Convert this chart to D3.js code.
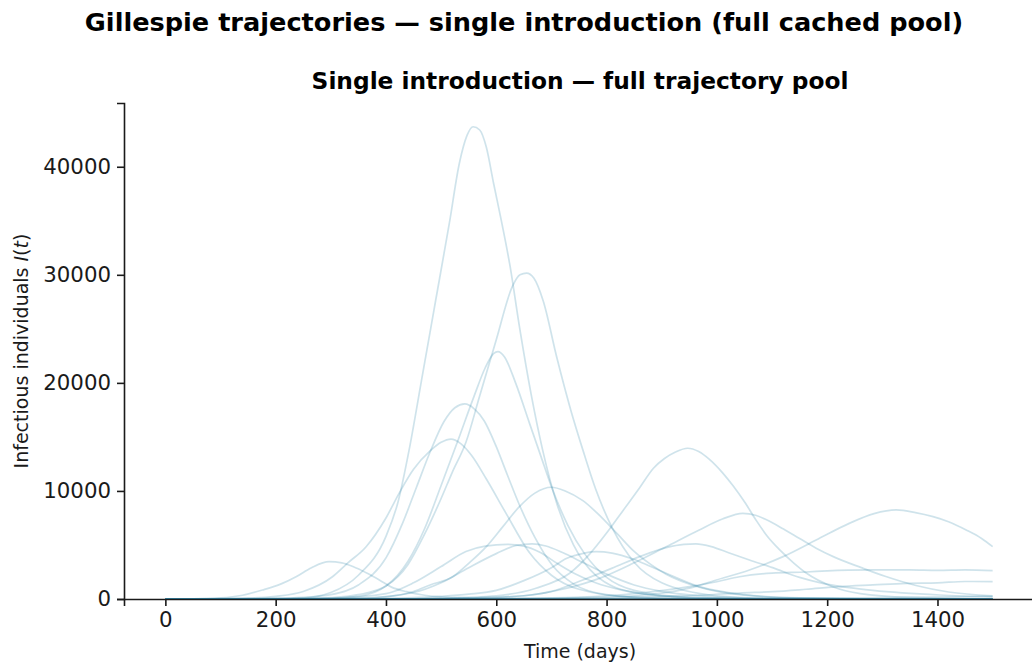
<!DOCTYPE html>
<html>
<head>
<meta charset="utf-8">
<script src="https://cdn.jsdelivr.net/npm/d3@7/dist/d3.min.js"></script>
<style>
  html, body { margin: 0; padding: 0; background: #fff; }
  svg { display: block; font-family: "DejaVu Sans", sans-serif; }
</style>
</head>
<body>
<svg id="chart" width="1032" height="668"></svg>
<script>
// Gillespie SIR trajectories, single introduction: [day, infectious count]
const run01 = [[0,0],[200,30],[250,100],[300,600],[350,2200],[400,5800],[422,9000],[442,13800],[465,20400],[490,27600],[515,34800],[533,40300],[547,42900],[558,43700],[570,43400],[582,41800],[595,38500],[610,34800],[625,30800],[642,25200],[663,19000],[684,13800],[710,8800],[740,5000],[780,2200],[850,600],[950,100],[1100,0],[1500,0]];
const run02 = [[0,0],[250,40],[300,120],[350,400],[400,1200],[440,3200],[470,6000],[500,9300],[520,11700],[545,14500],[570,18800],[600,24000],[629,28900],[643,30000],[655,30150],[668,29700],[685,27600],[710,22300],[735,17500],[757,13800],[780,10200],[810,6600],[850,3400],[900,1500],[1000,300],[1100,50],[1200,0],[1500,0]];
const run03 = [[0,0],[250,30],[300,80],[350,250],[400,1200],[440,3500],[470,6500],[500,10500],[530,14600],[560,18800],[580,21400],[595,22700],[603,22900],[615,22400],[635,20000],[660,16300],[681,13200],[700,10400],[730,6800],[760,4200],[800,2000],[850,800],[950,150],[1100,0],[1500,0]];
const run04 = [[0,0],[200,60],[250,150],[300,400],[350,1300],[400,3800],[430,7000],[455,10300],[480,13600],[505,16400],[525,17700],[543,18050],[560,17600],[578,16500],[600,14100],[620,11500],[642,8700],[670,5700],[702,3100],[740,1400],[800,400],[900,50],[1000,0],[1500,0]];
const run05 = [[0,0],[150,80],[200,250],[250,700],[303,2060],[330,3300],[364,4840],[400,7500],[424,9800],[450,12000],[480,13700],[500,14500],[518,14800],[535,14400],[555,13300],[582,11100],[618,7900],[660,4300],[700,2200],[750,900],[850,150],[1000,0],[1500,0]];
const run06 = [[0,0],[300,30],[350,60],[400,200],[450,700],[480,1300],[521,2060],[550,3300],[582,4850],[612,6700],[642,8550],[670,9800],[700,10340],[725,10000],[757,9100],[790,7600],[820,6000],[850,4400],[880,3200],[908,2300],[968,1100],[1050,350],[1150,80],[1300,0],[1500,0]];
const run07 = [[0,0],[400,20],[500,80],[600,300],[672,1000],[733,2380],[770,4200],[800,6100],[830,8200],[860,10300],[885,12100],[905,13000],[925,13600],[947,13950],[967,13650],[987,12900],[1010,11700],[1029,10500],[1050,9000],[1071,7300],[1090,5900],[1114,4540],[1140,3300],[1162,2400],[1210,1140],[1260,500],[1350,150],[1500,20]];
const run08 = [[0,0],[450,20],[550,80],[650,300],[720,900],[787,1910],[848,3300],[908,4840],[968,6390],[1010,7400],[1047,7930],[1070,7750],[1089,7350],[1120,6500],[1150,5600],[1180,4700],[1212,3900],[1262,2900],[1305,2100],[1361,1250],[1420,650],[1500,300]];
const run09 = [[0,0],[600,20],[700,60],[850,300],[950,1000],[999,1760],[1059,2690],[1120,3920],[1180,5460],[1240,7000],[1285,7900],[1325,8240],[1360,8000],[1392,7620],[1420,7150],[1452,6390],[1480,5600],[1500,4840]];
const run10 = [[0,0],[450,20],[550,80],[650,300],[700,700],[757,1760],[817,3000],[860,3920],[908,4750],[940,5050],[962,5100],[990,4850],[1020,4300],[1059,3610],[1101,2900],[1150,2000],[1192,1450],[1240,1050],[1283,800],[1404,370],[1500,200]];
const run11 = [[0,0],[350,30],[450,120],[500,250],[550,450],[600,800],[650,1700],[700,2900],[727,3750],[760,4250],[781,4380],[810,4250],[848,3700],[880,3000],[908,2380],[968,1140],[1050,400],[1150,100],[1300,0],[1500,0]];
const run12 = [[0,0],[250,20],[300,60],[400,500],[450,1500],[500,3000],[545,4400],[580,4900],[620,5050],[650,4900],[680,4300],[710,3300],[740,2400],[780,1500],[830,800],[900,300],[1000,80],[1100,0],[1500,0]];
const run13 = [[0,0],[300,20],[350,60],[450,600],[500,1500],[550,2900],[600,4200],[636,4950],[665,5100],[690,4900],[720,4300],[760,3300],[800,2300],[850,1300],[900,700],[1000,200],[1100,50],[1500,0]];
const run14 = [[0,0],[50,10],[100,100],[140,350],[176,830],[210,1400],[237,2060],[265,2900],[297,3450],[320,3350],[340,3000],[365,2400],[388,1760],[410,1100],[437,680],[470,350],[500,200],[600,50],[700,0],[1500,0]];
const run15 = [[0,0],[500,10],[700,100],[800,300],[860,550],[950,1140],[1000,1600],[1041,2060],[1100,2400],[1162,2500],[1200,2600],[1283,2690],[1350,2700],[1400,2650],[1450,2700],[1500,2620]];
const run16 = [[0,0],[600,10],[800,100],[900,250],[980,370],[1041,550],[1101,680],[1162,900],[1222,1140],[1283,1300],[1343,1450],[1400,1500],[1450,1620],[1500,1600]];
const run17 = [[0,0],[800,10],[1000,50],[1200,100],[1350,150],[1500,250]];
const run18 = [[0,0],[40,12],[90,3],[130,0],[1500,0]];
const run19 = [[0,0],[60,6],[110,0],[1500,0]];
const run20 = [[0,0],[30,4],[70,0],[1500,0]];
const run21 = [[0,0],[1500,0]];

const runs = [run01, run02, run03, run04, run05, run06, run07, run08, run09, run10,
              run11, run12, run13, run14, run15, run16, run17, run18, run19, run20, run21];

const xTicks = [0, 200, 400, 600, 800, 1000, 1200, 1400];
const yTicks = [0, 10000, 20000, 30000, 40000];
const xDomain = [-75, 1575];
const yDomain = [0, 45900];

const svg = d3.select("#chart");
const plot = { left: 124, right: 1034, top: 103, bottom: 599 };

const x = d3.scaleLinear().domain(xDomain).range([plot.left, plot.right]);
const y = d3.scaleLinear().domain(yDomain).range([plot.bottom, plot.top]);

// figure title and axes title
svg.append("text")
  .attr("x", 524).attr("y", 31)
  .attr("text-anchor", "middle")
  .attr("font-size", "25.6px").attr("font-weight", "bold")
  .attr("fill", "#000")
  .text("Gillespie trajectories — single introduction (full cached pool)");

svg.append("text")
  .attr("x", 580).attr("y", 89)
  .attr("text-anchor", "middle")
  .attr("font-size", "23.3px").attr("font-weight", "bold")
  .attr("fill", "#000")
  .text("Single introduction — full trajectory pool");

// trajectories
const line = d3.line()
  .x(d => x(d[0]))
  .y(d => y(d[1]))
  .curve(d3.curveMonotoneX);

svg.append("g")
  .attr("fill", "none")
  .attr("stroke", "#378bab")
  .attr("stroke-opacity", 0.24)
  .attr("stroke-width", 1.7)
  .attr("stroke-linejoin", "round")
  .selectAll("path")
  .data(runs)
  .join("path")
  .attr("d", line);

// axes
const xAxis = d3.axisBottom(x).tickValues(xTicks).tickFormat(d3.format("d")).tickSizeOuter(0).tickSize(7).tickPadding(6);
const yAxis = d3.axisLeft(y).tickValues(yTicks).tickFormat(d3.format("d")).tickSizeOuter(0).tickSize(7).tickPadding(6);

const gx = svg.append("g").attr("transform", `translate(0,${plot.bottom})`).call(xAxis);
const gy = svg.append("g").attr("transform", `translate(${plot.left},0)`).call(yAxis);

[gx, gy].forEach(g => {
  g.select(".domain").attr("stroke", "#1a1a1a").attr("stroke-width", 1.6);
  g.selectAll(".tick line").attr("stroke", "#1a1a1a").attr("stroke-width", 1.6);
  g.selectAll(".tick text").attr("font-size", "21.3px").attr("fill", "#1a1a1a")
    .attr("font-family", "DejaVu Sans, sans-serif");
});

// axis labels
svg.append("text")
  .attr("x", 580).attr("y", 658)
  .attr("text-anchor", "middle")
  .attr("font-size", "19px").attr("fill", "#1a1a1a")
  .text("Time (days)");

const ylab = svg.append("text")
  .attr("transform", `translate(28,351) rotate(-90)`)
  .attr("text-anchor", "middle")
  .attr("font-size", "19px").attr("fill", "#1a1a1a");
ylab.append("tspan").text("Infectious individuals ");
ylab.append("tspan").attr("font-style", "italic").text("I");
ylab.append("tspan").text("(");
ylab.append("tspan").attr("font-style", "italic").text("t");
ylab.append("tspan").text(")");
</script>
</body>
</html>
